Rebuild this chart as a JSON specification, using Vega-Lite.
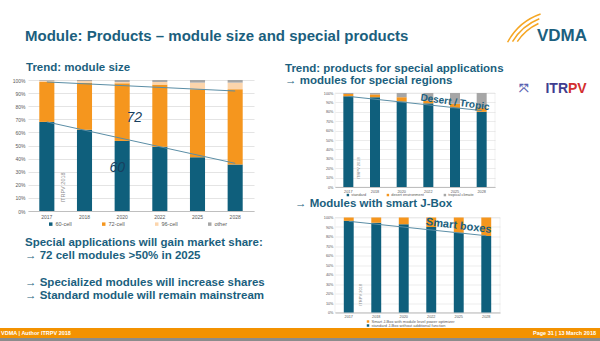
{
  "$schema": "https://vega.github.io/schema/vega-lite/v6.json",
  "padding": 0,
  "background": "white",
  "config": {
    "view": {"stroke": null},
    "font": "Liberation Sans",
    "axis": {"labelColor": "#595959", "ticks": false, "title": null, "gridColor": "#d9d9d9", "domainColor": "#bfbfbf", "labelFont": "Liberation Sans"},
    "legend": {"title": null, "symbolType": "square", "labelColor": "#595959", "symbolStrokeWidth": 0, "padding": 0, "labelFont": "Liberation Sans"},
    "title": {"anchor": "start", "frame": "group", "color": "#1b5f7e", "fontSize": 11.5, "fontWeight": "bold", "font": "Liberation Sans"}
  },
  "spacing": 0,
  "resolve": {"scale": {"x": "independent", "y": "independent", "color": "independent"}, "legend": {"color": "independent"}},
  "vconcat": [
    {
      "width": 572,
      "height": 62,
      "data": {"values": [{"title": "Module: Products – module size and special products", "logo": "VDMA"}]},
      "layer": [
        {
          "mark": {"type": "text", "align": "left", "baseline": "middle", "fontSize": 15, "fontWeight": "bold", "color": "#1b5f7e", "dx": -3},
          "encoding": {
            "x": {"datum": 0, "type": "quantitative", "scale": {"domain": [0, 1]}, "axis": null},
            "y": {"datum": 0.42, "type": "quantitative", "scale": {"domain": [0, 1]}, "axis": null},
            "text": {"field": "title"}
          }
        },
        {
          "mark": {"type": "text", "align": "center", "baseline": "middle", "fontSize": 17, "fontWeight": "bold", "color": "#1b5f7e", "dx": -38},
          "encoding": {
            "x": {"datum": 1, "type": "quantitative"},
            "y": {"datum": 0.42, "type": "quantitative"},
            "text": {"field": "logo"}
          }
        },
        {
          "mark": {"type": "arc", "color": "#f5a623", "theta": 5.2, "theta2": 5.95, "radius": 58.5, "radius2": 60},
          "encoding": {"x": {"datum": 0.93, "type": "quantitative"}, "y": {"datum": -0.129, "type": "quantitative"}}
        },
        {
          "mark": {"type": "arc", "color": "#f5a623", "theta": 5.25, "theta2": 5.9, "radius": 54.5, "radius2": 56},
          "encoding": {"x": {"datum": 0.93, "type": "quantitative"}, "y": {"datum": -0.129, "type": "quantitative"}}
        },
        {
          "mark": {"type": "arc", "color": "#f5a623", "theta": 5.3, "theta2": 5.85, "radius": 50.5, "radius2": 52},
          "encoding": {"x": {"datum": 0.93, "type": "quantitative"}, "y": {"datum": -0.129, "type": "quantitative"}}
        }
      ]
    },
    {
      "spacing": 19,
      "resolve": {"scale": {"x": "independent", "y": "independent", "color": "independent"}, "legend": {"color": "independent"}},
      "hconcat": [
        {
          "bounds": "flush",
          "spacing": 25,
          "resolve": {"scale": {"x": "independent", "y": "independent", "color": "independent"}, "legend": {"color": "independent"}},
          "vconcat": [
            {
              "width": 226,
              "height": 131,
              "layer": [
                {
                  "data": {"values": [
                    {"year": "2017", "type": "60-cell", "share": 68}, {"year": "2017", "type": "72-cell", "share": 30.5}, {"year": "2017", "type": "96-cell", "share": 1}, {"year": "2017", "type": "other", "share": 0.5},
                    {"year": "2018", "type": "60-cell", "share": 62}, {"year": "2018", "type": "72-cell", "share": 36}, {"year": "2018", "type": "96-cell", "share": 1.2}, {"year": "2018", "type": "other", "share": 0.8},
                    {"year": "2020", "type": "60-cell", "share": 53.5}, {"year": "2020", "type": "72-cell", "share": 44}, {"year": "2020", "type": "96-cell", "share": 1}, {"year": "2020", "type": "other", "share": 1.5},
                    {"year": "2022", "type": "60-cell", "share": 49}, {"year": "2022", "type": "72-cell", "share": 47.5}, {"year": "2022", "type": "96-cell", "share": 2}, {"year": "2022", "type": "other", "share": 1.5},
                    {"year": "2025", "type": "60-cell", "share": 41}, {"year": "2025", "type": "72-cell", "share": 52}, {"year": "2025", "type": "96-cell", "share": 5}, {"year": "2025", "type": "other", "share": 2},
                    {"year": "2028", "type": "60-cell", "share": 35.5}, {"year": "2028", "type": "72-cell", "share": 57.5}, {"year": "2028", "type": "96-cell", "share": 5}, {"year": "2028", "type": "other", "share": 2}
                  ]},
                  "mark": {"type": "bar", "width": {"band": 0.4}},
                  "encoding": {
                    "x": {"field": "year", "type": "ordinal", "scale": {"paddingInner": 0, "paddingOuter": 0}, "axis": {"labelAngle": 0, "labelFontSize": 5, "labelPadding": 3, "domain": true, "grid": false}},
                    "y": {"field": "share", "type": "quantitative", "stack": "zero", "scale": {"domain": [0, 100], "nice": false}, "axis": {"values": [0, 10, 20, 30, 40, 50, 60, 70, 80, 90, 100], "labelExpr": "datum.value + '%'", "labelFontSize": 5, "labelPadding": 3, "domain": false, "grid": true, "gridWidth": 0.7, "labelOverlap": false, "minExtent": 28, "maxExtent": 28}},
                    "color": {"field": "type", "type": "nominal", "scale": {"domain": ["60-cell", "72-cell", "96-cell", "other"], "range": ["#0f5f7c", "#f5961e", "#fcd5ac", "#a6a6a6"]}, "legend": {"orient": "none", "legendX": 20, "legendY": 141, "direction": "horizontal", "labelFontSize": 5.5, "symbolSize": 12, "columnPadding": 29, "labelOffset": 2}},
                    "order": {"field": "type", "type": "nominal", "sort": "ascending"}
                  }
                },
                {
                  "data": {"values": [
                    {"series": "upper", "year": "2017", "v": 98.5}, {"series": "upper", "year": "2028", "v": 91.6},
                    {"series": "lower", "year": "2017", "v": 68}, {"series": "lower", "year": "2028", "v": 36.4}
                  ]},
                  "mark": {"type": "line", "color": "#5b8ea6", "strokeWidth": 1},
                  "encoding": {
                    "x": {"field": "year", "type": "ordinal"},
                    "y": {"field": "v", "type": "quantitative", "axis": {"values": [0, 10, 20, 30, 40, 50, 60, 70, 80, 90, 100], "labelExpr": "datum.value + '%'", "labelFontSize": 5, "labelPadding": 3, "domain": false, "grid": true, "gridWidth": 0.7, "labelOverlap": false, "minExtent": 28, "maxExtent": 28}},
                    "detail": {"field": "series"}
                  }
                },
                {
                  "data": {"values": [{"label": "72", "year": "2020", "v": 71}]},
                  "mark": {"type": "text", "fontSize": 14, "fontStyle": "italic", "color": "#173f5f", "dx": 12},
                  "encoding": {"x": {"field": "year", "type": "ordinal"}, "y": {"field": "v", "type": "quantitative", "axis": {"values": [0, 10, 20, 30, 40, 50, 60, 70, 80, 90, 100], "labelExpr": "datum.value + '%'", "labelFontSize": 5, "labelPadding": 3, "domain": false, "grid": true, "gridWidth": 0.7, "labelOverlap": false, "minExtent": 28, "maxExtent": 28}}, "text": {"field": "label"}}
                },
                {
                  "data": {"values": [{"label": "60", "year": "2020", "v": 33}]},
                  "mark": {"type": "text", "fontSize": 14, "fontStyle": "italic", "color": "#173f5f", "dx": -5},
                  "encoding": {"x": {"field": "year", "type": "ordinal"}, "y": {"field": "v", "type": "quantitative", "axis": {"values": [0, 10, 20, 30, 40, 50, 60, 70, 80, 90, 100], "labelExpr": "datum.value + '%'", "labelFontSize": 5, "labelPadding": 3, "domain": false, "grid": true, "gridWidth": 0.7, "labelOverlap": false, "minExtent": 28, "maxExtent": 28}}, "text": {"field": "label"}}
                },
                {
                  "data": {"values": [{"label": "ITRPV 2018", "year": "2017", "v": 18}]},
                  "mark": {"type": "text", "fontSize": 5.5, "angle": 270, "color": "#8c8c8c", "dy": 16},
                  "encoding": {"x": {"field": "year", "type": "ordinal"}, "y": {"field": "v", "type": "quantitative", "axis": {"values": [0, 10, 20, 30, 40, 50, 60, 70, 80, 90, 100], "labelExpr": "datum.value + '%'", "labelFontSize": 5, "labelPadding": 3, "domain": false, "grid": true, "gridWidth": 0.7, "labelOverlap": false, "minExtent": 28, "maxExtent": 28}}, "text": {"field": "label"}}
                },
                {
                  "data": {"values": [{"t": "Trend: module size"}]},
                  "mark": {"type": "text", "align": "left", "baseline": "top", "fontSize": 11.5, "fontWeight": "bold", "color": "#1b5f7e", "dx": -2},
                  "encoding": {"x": {"datum": "2017", "type": "ordinal", "bandPosition": 0}, "y": {"datum": 113.7, "type": "quantitative", "axis": {"values": [0, 10, 20, 30, 40, 50, 60, 70, 80, 90, 100], "labelExpr": "datum.value + '%'", "labelFontSize": 5, "labelPadding": 3, "domain": false, "grid": true, "gridWidth": 0.7, "labelOverlap": false, "minExtent": 28, "maxExtent": 28}}, "text": {"field": "t"}}
                }
              ]
            },
            {
              "width": 226,
              "height": 67,
              "data": {"values": [
                {"line": 0, "text": "Special applications will gain market share:"},
                {"line": 1, "text": "→ 72 cell modules >50% in 2025"},
                {"line": 3, "text": "→ Specialized modules will increase shares"},
                {"line": 4, "text": "→ Standard module will remain mainstream"}
              ]},
              "mark": {"type": "text", "align": "left", "baseline": "middle", "fontSize": 11.5, "fontWeight": "bold", "color": "#1b5f7e", "dx": -3},
              "encoding": {
                "y": {"field": "line", "type": "ordinal", "scale": {"domain": [0, 1, 2, 3, 4]}, "axis": null},
                "x": {"datum": 0, "type": "quantitative", "scale": {"domain": [0, 1]}, "axis": null},
                "text": {"field": "text"}
              }
            }
          ]
        },
        {
          "bounds": "flush",
          "spacing": 0,
          "resolve": {"scale": {"x": "independent", "y": "independent", "color": "independent"}, "legend": {"color": "independent"}},
          "vconcat": [
            {
              "width": 160, "height": 12.5,
              "data": {"values": []},
              "mark": "point",
              "encoding": {}
            },
            {
              "bounds": "flush",
              "spacing": 30.5,
              "resolve": {"scale": {"x": "independent", "y": "independent", "color": "independent"}, "legend": {"color": "independent"}},
              "vconcat": [
                {
                  "width": 160,
                  "height": 94,
                  "view": {"stroke": "#e3e3e3", "strokeWidth": 0.5},
                  "layer": [
                    {
                      "data": {"values": [
                        {"year": "2017", "type": "standard", "rank": 1, "share": 96.5}, {"year": "2017", "type": "desert environment", "rank": 2, "share": 2.5}, {"year": "2017", "type": "tropical climate", "rank": 3, "share": 1},
                        {"year": "2018", "type": "standard", "rank": 1, "share": 95.5}, {"year": "2018", "type": "desert environment", "rank": 2, "share": 3}, {"year": "2018", "type": "tropical climate", "rank": 3, "share": 1.5},
                        {"year": "2020", "type": "standard", "rank": 1, "share": 91}, {"year": "2020", "type": "desert environment", "rank": 2, "share": 4.5}, {"year": "2020", "type": "tropical climate", "rank": 3, "share": 4.5},
                        {"year": "2022", "type": "standard", "rank": 1, "share": 89}, {"year": "2022", "type": "desert environment", "rank": 2, "share": 3}, {"year": "2022", "type": "tropical climate", "rank": 3, "share": 8},
                        {"year": "2025", "type": "standard", "rank": 1, "share": 84}, {"year": "2025", "type": "desert environment", "rank": 2, "share": 4.5}, {"year": "2025", "type": "tropical climate", "rank": 3, "share": 11.5},
                        {"year": "2028", "type": "standard", "rank": 1, "share": 80}, {"year": "2028", "type": "desert environment", "rank": 2, "share": 4.5}, {"year": "2028", "type": "tropical climate", "rank": 3, "share": 15.5}
                      ]},
                      "mark": {"type": "bar", "width": {"band": 0.375}},
                      "encoding": {
                        "x": {"field": "year", "type": "ordinal", "scale": {"paddingInner": 0, "paddingOuter": 0}, "axis": {"labelAngle": 0, "labelFontSize": 3.8, "labelPadding": 2, "domain": true, "grid": false}},
                        "y": {"field": "share", "type": "quantitative", "stack": "zero", "scale": {"domain": [0, 100], "nice": false}, "axis": {"values": [0, 10, 20, 30, 40, 50, 60, 70, 80, 90, 100], "labelExpr": "datum.value + '%'", "labelFontSize": 3.8, "labelPadding": 2, "domain": false, "grid": true, "gridWidth": 0.5, "labelOverlap": false}},
                        "color": {"field": "type", "type": "nominal", "sort": ["standard", "desert environment", "tropical climate"], "scale": {"domain": ["standard", "desert environment", "tropical climate"], "range": ["#0f5f7c", "#f5961e", "#a6a6a6"]}, "legend": {"orient": "none", "legendX": 11, "legendY": 100, "direction": "horizontal", "labelFontSize": 3.8, "symbolSize": 6, "columnPadding": 19, "labelOffset": 1.5}},
                        "order": {"field": "rank", "type": "quantitative"}
                      }
                    },
                    {
                      "data": {"values": [{"year": "2017", "v": 96.4}, {"year": "2028", "v": 81.3}]},
                      "mark": {"type": "line", "color": "#5b8ea6", "strokeWidth": 1},
                      "encoding": {"x": {"field": "year", "type": "ordinal"}, "y": {"field": "v", "type": "quantitative", "axis": {"values": [0, 10, 20, 30, 40, 50, 60, 70, 80, 90, 100], "labelExpr": "datum.value + '%'", "labelFontSize": 3.8, "labelPadding": 2, "domain": false, "grid": true, "gridWidth": 0.5, "labelOverlap": false}}}
                    },
                    {
                      "data": {"values": [{"label": "Desert / Tropic", "year": "2025", "v": 90}]},
                      "mark": {"type": "text", "fontSize": 10, "fontWeight": "bold", "color": "#1b5f7e", "angle": 8},
                      "encoding": {"x": {"field": "year", "type": "ordinal"}, "y": {"field": "v", "type": "quantitative", "axis": {"values": [0, 10, 20, 30, 40, 50, 60, 70, 80, 90, 100], "labelExpr": "datum.value + '%'", "labelFontSize": 3.8, "labelPadding": 2, "domain": false, "grid": true, "gridWidth": 0.5, "labelOverlap": false}}, "text": {"field": "label"}}
                    },
                    {
                      "data": {"values": [{"label": "ITRPV 2018", "year": "2017", "v": 20}]},
                      "mark": {"type": "text", "fontSize": 4, "angle": 270, "color": "#8c8c8c", "dy": 11},
                      "encoding": {"x": {"field": "year", "type": "ordinal"}, "y": {"field": "v", "type": "quantitative", "axis": {"values": [0, 10, 20, 30, 40, 50, 60, 70, 80, 90, 100], "labelExpr": "datum.value + '%'", "labelFontSize": 3.8, "labelPadding": 2, "domain": false, "grid": true, "gridWidth": 0.5, "labelOverlap": false}}, "text": {"field": "label"}}
                    },
                    {
                      "data": {"values": [{"t1": "Trend: products for special applications"}]},
                      "mark": {"type": "text", "align": "left", "baseline": "top", "fontSize": 11.5, "fontWeight": "bold", "color": "#1b5f7e", "dx": -50},
                      "encoding": {"x": {"datum": "2017", "type": "ordinal", "bandPosition": 0}, "y": {"datum": 132.4, "type": "quantitative", "axis": {"values": [0, 10, 20, 30, 40, 50, 60, 70, 80, 90, 100], "labelExpr": "datum.value + '%'", "labelFontSize": 3.8, "labelPadding": 2, "domain": false, "grid": true, "gridWidth": 0.5, "labelOverlap": false}}, "text": {"field": "t1"}}
                    },
                    {
                      "data": {"values": [{"t2": "→ modules for special regions"}]},
                      "mark": {"type": "text", "align": "left", "baseline": "top", "fontSize": 11.5, "fontWeight": "bold", "color": "#1b5f7e", "dx": -50},
                      "encoding": {"x": {"datum": "2017", "type": "ordinal", "bandPosition": 0}, "y": {"datum": 119.4, "type": "quantitative", "axis": {"values": [0, 10, 20, 30, 40, 50, 60, 70, 80, 90, 100], "labelExpr": "datum.value + '%'", "labelFontSize": 3.8, "labelPadding": 2, "domain": false, "grid": true, "gridWidth": 0.5, "labelOverlap": false}}, "text": {"field": "t2"}}
                    },
                    {
                      "data": {"values": [{"t": "ITR"}]},
                      "mark": {"type": "text", "fontSize": 14, "fontWeight": "bold", "color": "#3f3d8f", "align": "right", "baseline": "middle", "dx": 73},
                      "encoding": {"x": {"datum": "2028", "type": "ordinal", "bandPosition": 1}, "y": {"datum": 104, "type": "quantitative", "axis": {"values": [0, 10, 20, 30, 40, 50, 60, 70, 80, 90, 100], "labelExpr": "datum.value + '%'", "labelFontSize": 3.8, "labelPadding": 2, "domain": false, "grid": true, "gridWidth": 0.5, "labelOverlap": false}}, "text": {"field": "t"}}
                    },
                    {
                      "data": {"values": [{"t": "PV"}]},
                      "mark": {"type": "text", "fontSize": 14, "fontWeight": "bold", "color": "#d32f2f", "align": "left", "baseline": "middle", "dx": 73},
                      "encoding": {"x": {"datum": "2028", "type": "ordinal", "bandPosition": 1}, "y": {"datum": 104, "type": "quantitative", "axis": {"values": [0, 10, 20, 30, 40, 50, 60, 70, 80, 90, 100], "labelExpr": "datum.value + '%'", "labelFontSize": 3.8, "labelPadding": 2, "domain": false, "grid": true, "gridWidth": 0.5, "labelOverlap": false}}, "text": {"field": "t"}}
                    },
                    {
                      "data": {"values": [{"t": "⤧"}]},
                      "mark": {"type": "text", "fontSize": 12, "fontWeight": "bold", "color": "#5a62b0", "align": "center", "baseline": "middle", "dx": 29},
                      "encoding": {"x": {"datum": "2028", "type": "ordinal", "bandPosition": 1}, "y": {"datum": 104, "type": "quantitative", "axis": {"values": [0, 10, 20, 30, 40, 50, 60, 70, 80, 90, 100], "labelExpr": "datum.value + '%'", "labelFontSize": 3.8, "labelPadding": 2, "domain": false, "grid": true, "gridWidth": 0.5, "labelOverlap": false}}, "text": {"field": "t"}}
                    }
                  ]
                },
                {
                  "width": 165,
                  "height": 95,
                  "view": {"stroke": "#e3e3e3", "strokeWidth": 0.5},
                  "title": {"text": "→ Modules with smart J-Box", "dx": -40, "offset": 6},
                  "layer": [
                    {
                      "data": {"values": [
                        {"year": "2017", "type": "standard J-Box without additional function", "share": 96.5}, {"year": "2017", "type": "Smart J-Box with module level power optimizer", "share": 3.5},
                        {"year": "2018", "type": "standard J-Box without additional function", "share": 94.5}, {"year": "2018", "type": "Smart J-Box with module level power optimizer", "share": 5.5},
                        {"year": "2020", "type": "standard J-Box without additional function", "share": 93}, {"year": "2020", "type": "Smart J-Box with module level power optimizer", "share": 7},
                        {"year": "2022", "type": "standard J-Box without additional function", "share": 90}, {"year": "2022", "type": "Smart J-Box with module level power optimizer", "share": 10},
                        {"year": "2025", "type": "standard J-Box without additional function", "share": 84}, {"year": "2025", "type": "Smart J-Box with module level power optimizer", "share": 16},
                        {"year": "2028", "type": "standard J-Box without additional function", "share": 80.5}, {"year": "2028", "type": "Smart J-Box with module level power optimizer", "share": 19.5}
                      ]},
                      "mark": {"type": "bar", "width": {"band": 0.36}},
                      "encoding": {
                        "x": {"field": "year", "type": "ordinal", "scale": {"paddingInner": 0, "paddingOuter": 0}, "axis": {"labelAngle": 0, "labelFontSize": 3.8, "labelPadding": 2, "domain": true, "grid": false}},
                        "y": {"field": "share", "type": "quantitative", "stack": "zero", "scale": {"domain": [0, 100], "nice": false}, "axis": {"values": [0, 10, 20, 30, 40, 50, 60, 70, 80, 90, 100], "labelExpr": "datum.value + '%'", "labelFontSize": 3.8, "labelPadding": 2, "domain": false, "grid": true, "gridWidth": 0.5, "labelOverlap": false}},
                        "color": {"field": "type", "type": "nominal", "scale": {"domain": ["Smart J-Box with module level power optimizer", "standard J-Box without additional function"], "range": ["#f5961e", "#0f5f7c"]}, "legend": {"orient": "none", "legendX": 31, "legendY": 102, "direction": "vertical", "labelFontSize": 4, "symbolSize": 6, "rowPadding": 0, "labelOffset": 1.5}},
                        "order": {"field": "type", "type": "nominal", "sort": "descending"}
                      }
                    },
                    {
                      "data": {"values": [{"year": "2017", "v": 96}, {"year": "2028", "v": 80.8}]},
                      "mark": {"type": "line", "color": "#5b8ea6", "strokeWidth": 1},
                      "encoding": {"x": {"field": "year", "type": "ordinal"}, "y": {"field": "v", "type": "quantitative", "axis": {"values": [0, 10, 20, 30, 40, 50, 60, 70, 80, 90, 100], "labelExpr": "datum.value + '%'", "labelFontSize": 3.8, "labelPadding": 2, "domain": false, "grid": true, "gridWidth": 0.5, "labelOverlap": false}}}
                    },
                    {
                      "data": {"values": [{"label": "Smart boxes", "year": "2025", "v": 91}]},
                      "mark": {"type": "text", "fontSize": 11, "fontWeight": "bold", "color": "#1b5f7e", "angle": 7},
                      "encoding": {"x": {"field": "year", "type": "ordinal"}, "y": {"field": "v", "type": "quantitative", "axis": {"values": [0, 10, 20, 30, 40, 50, 60, 70, 80, 90, 100], "labelExpr": "datum.value + '%'", "labelFontSize": 3.8, "labelPadding": 2, "domain": false, "grid": true, "gridWidth": 0.5, "labelOverlap": false}}, "text": {"field": "label"}}
                    },
                    {
                      "data": {"values": [{"label": "ITRPV 2018", "year": "2017", "v": 18.6}]},
                      "mark": {"type": "text", "fontSize": 4, "angle": 270, "color": "#8c8c8c", "dy": 12},
                      "encoding": {"x": {"field": "year", "type": "ordinal"}, "y": {"field": "v", "type": "quantitative", "axis": {"values": [0, 10, 20, 30, 40, 50, 60, 70, 80, 90, 100], "labelExpr": "datum.value + '%'", "labelFontSize": 3.8, "labelPadding": 2, "domain": false, "grid": true, "gridWidth": 0.5, "labelOverlap": false}}, "text": {"field": "label"}}
                    }
                  ]
                }
              ]
            }
          ]
        }
      ]
    },
    {
      "width": 572,
      "height": 14,
      "data": {"values": [{"left": "VDMA | Author ITRPV 2018", "right": "Page 31 | 13 March 2018"}]},
      "layer": [
        {
          "mark": {"type": "rect", "color": "#f39200"},
          "encoding": {
            "x": {"datum": 0, "type": "quantitative", "scale": {"domain": [0, 1], "range": [-28, 572]}, "axis": null},
            "x2": {"datum": 1},
            "y": {"datum": 0, "type": "quantitative", "scale": {"domain": [0, 14], "range": [0, 14]}, "axis": null},
            "y2": {"datum": 10}
          }
        },
        {
          "mark": {"type": "rect", "color": "#8c8c8c"},
          "encoding": {
            "x": {"datum": 0, "type": "quantitative"},
            "x2": {"datum": 1},
            "y": {"datum": 10, "type": "quantitative"},
            "y2": {"datum": 14}
          }
        },
        {
          "mark": {"type": "text", "color": "white", "fontWeight": "bold", "fontSize": 5.5, "align": "left", "baseline": "middle", "dx": 1},
          "encoding": {"x": {"datum": 0, "type": "quantitative"}, "y": {"datum": 5, "type": "quantitative"}, "text": {"field": "left"}}
        },
        {
          "mark": {"type": "text", "color": "white", "fontWeight": "bold", "fontSize": 5.5, "align": "right", "baseline": "middle", "dx": -4},
          "encoding": {"x": {"datum": 1, "type": "quantitative"}, "y": {"datum": 5, "type": "quantitative"}, "text": {"field": "right"}}
        }
      ]
    }
  ]
}
